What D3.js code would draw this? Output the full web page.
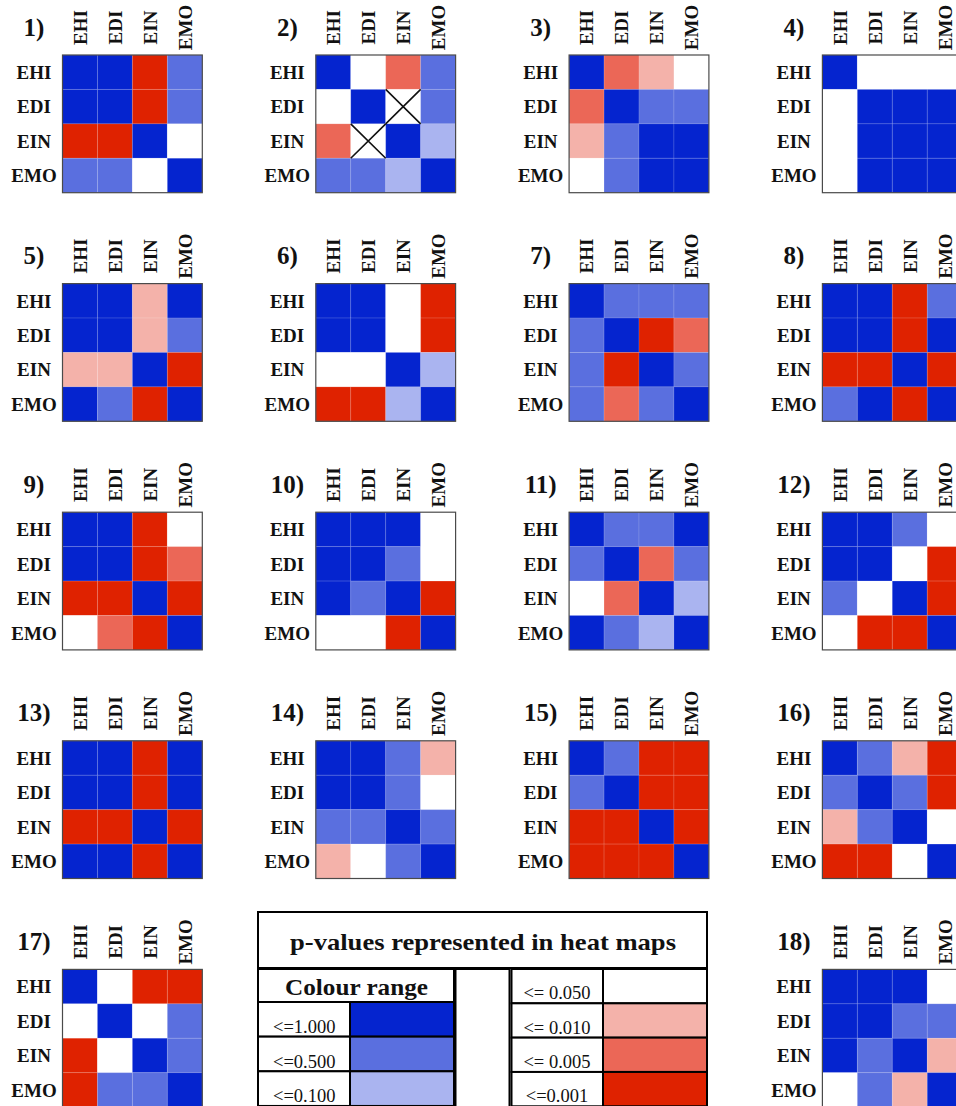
<!DOCTYPE html>
<html>
<head>
<meta charset="utf-8">
<script src="https://cdn.jsdelivr.net/npm/d3@7"></script>
<style>
  html, body { margin: 0; padding: 0; background: #fff; }
  svg { display: block; }
  text { font-family: "Liberation Serif", "DejaVu Serif", serif; }
</style>
</head>
<body>
<svg id="chart" width="956" height="1106"></svg>
<script>
// Variable names on both axes of every heat map
const variables = ["EHI", "EDI", "EIN", "EMO"];

// p-value bins (upper bound of each bin) and their colours
const pBins   = [1.000, 0.500, 0.100, 0.050, 0.010, 0.005, 0.001];
const pColors = ["#0524cf", "#5a6fdf", "#aab4f0", "#ffffff", "#f4b2aa", "#eb6757", "#df2200"];
const binLabels = ["<=1.000", "<=0.500", "<=0.100", "<= 0.050", "<= 0.010", "<= 0.005", "<=0.001"];

// Pairwise p-values, one 4x4 matrix per panel (rows and columns follow `variables`).
// null marks a pair that was not tested (drawn with a cross).
const p1  = [[1.000, 1.000, 0.001, 0.500], [1.000, 1.000, 0.001, 0.500], [0.001, 0.001, 1.000, 0.050], [0.500, 0.500, 0.050, 1.000]];
const p2  = [[1.000, 0.050, 0.005, 0.500], [0.050, 1.000, null, 0.500], [0.005, null, 1.000, 0.100], [0.500, 0.500, 0.100, 1.000]];
const p3  = [[1.000, 0.005, 0.010, 0.050], [0.005, 1.000, 0.500, 0.500], [0.010, 0.500, 1.000, 1.000], [0.050, 0.500, 1.000, 1.000]];
const p4  = [[1.000, 0.050, 0.050, 0.050], [0.050, 1.000, 1.000, 1.000], [0.050, 1.000, 1.000, 1.000], [0.050, 1.000, 1.000, 1.000]];
const p5  = [[1.000, 1.000, 0.010, 1.000], [1.000, 1.000, 0.010, 0.500], [0.010, 0.010, 1.000, 0.001], [1.000, 0.500, 0.001, 1.000]];
const p6  = [[1.000, 1.000, 0.050, 0.001], [1.000, 1.000, 0.050, 0.001], [0.050, 0.050, 1.000, 0.100], [0.001, 0.001, 0.100, 1.000]];
const p7  = [[1.000, 0.500, 0.500, 0.500], [0.500, 1.000, 0.001, 0.005], [0.500, 0.001, 1.000, 0.500], [0.500, 0.005, 0.500, 1.000]];
const p8  = [[1.000, 1.000, 0.001, 0.500], [1.000, 1.000, 0.001, 1.000], [0.001, 0.001, 1.000, 0.001], [0.500, 1.000, 0.001, 1.000]];
const p9  = [[1.000, 1.000, 0.001, 0.050], [1.000, 1.000, 0.001, 0.005], [0.001, 0.001, 1.000, 0.001], [0.050, 0.005, 0.001, 1.000]];
const p10 = [[1.000, 1.000, 1.000, 0.050], [1.000, 1.000, 0.500, 0.050], [1.000, 0.500, 1.000, 0.001], [0.050, 0.050, 0.001, 1.000]];
const p11 = [[1.000, 0.500, 0.500, 1.000], [0.500, 1.000, 0.005, 0.500], [0.050, 0.005, 1.000, 0.100], [1.000, 0.500, 0.100, 1.000]];
const p12 = [[1.000, 1.000, 0.500, 0.050], [1.000, 1.000, 0.050, 0.001], [0.500, 0.050, 1.000, 0.001], [0.050, 0.001, 0.001, 1.000]];
const p13 = [[1.000, 1.000, 0.001, 1.000], [1.000, 1.000, 0.001, 1.000], [0.001, 0.001, 1.000, 0.001], [1.000, 1.000, 0.001, 1.000]];
const p14 = [[1.000, 1.000, 0.500, 0.010], [1.000, 1.000, 0.500, 0.050], [0.500, 0.500, 1.000, 0.500], [0.010, 0.050, 0.500, 1.000]];
const p15 = [[1.000, 0.500, 0.001, 0.001], [0.500, 1.000, 0.001, 0.001], [0.001, 0.001, 1.000, 0.001], [0.001, 0.001, 0.001, 1.000]];
const p16 = [[1.000, 0.500, 0.010, 0.001], [0.500, 1.000, 0.500, 0.001], [0.010, 0.500, 1.000, 0.050], [0.001, 0.001, 0.050, 1.000]];
const p17 = [[1.000, 0.050, 0.001, 0.001], [0.050, 1.000, 0.050, 0.500], [0.001, 0.050, 1.000, 0.500], [0.001, 0.500, 0.500, 1.000]];
const p18 = [[1.000, 1.000, 1.000, 0.050], [1.000, 1.000, 0.500, 0.500], [1.000, 0.500, 1.000, 0.010], [0.050, 0.500, 0.010, 1.000]];

// Panel number, matrix, and slot in the 4-column page grid
const panels = [
  { id: 1,  m: p1,  col: 0, row: 0 }, { id: 2,  m: p2,  col: 1, row: 0 },
  { id: 3,  m: p3,  col: 2, row: 0 }, { id: 4,  m: p4,  col: 3, row: 0 },
  { id: 5,  m: p5,  col: 0, row: 1 }, { id: 6,  m: p6,  col: 1, row: 1 },
  { id: 7,  m: p7,  col: 2, row: 1 }, { id: 8,  m: p8,  col: 3, row: 1 },
  { id: 9,  m: p9,  col: 0, row: 2 }, { id: 10, m: p10, col: 1, row: 2 },
  { id: 11, m: p11, col: 2, row: 2 }, { id: 12, m: p12, col: 3, row: 2 },
  { id: 13, m: p13, col: 0, row: 3 }, { id: 14, m: p14, col: 1, row: 3 },
  { id: 15, m: p15, col: 2, row: 3 }, { id: 16, m: p16, col: 3, row: 3 },
  { id: 17, m: p17, col: 0, row: 4 }, { id: 18, m: p18, col: 3, row: 4 }
];

const svg = d3.select("#chart");

const color = d3.scaleOrdinal().domain(pBins).range(pColors);

// page grid of panels
const gridX = d3.scaleLinear().domain([0, 1]).range([62.5, 62.5 + 253.3]);
const gridY = d3.scaleLinear().domain([0, 1]).range([55, 55 + 228.6]);
const mapW = 139.8, mapH = 137.7;

const x = d3.scaleBand().domain(variables).range([0, mapW]);
const y = d3.scaleBand().domain(variables).range([0, mapH]);

panels.forEach(p => {
  const g = svg.append("g")
    .attr("transform", `translate(${gridX(p.col)},${gridY(p.row)})`);

  const cells = [];
  p.m.forEach((rowVals, i) => rowVals.forEach((v, j) => {
    cells.push({ r: variables[i], c: variables[j], v });
  }));

  g.selectAll("rect.cell").data(cells).join("rect")
    .attr("class", "cell")
    .attr("x", d => x(d.c))
    .attr("y", d => y(d.r))
    .attr("width", x.bandwidth())
    .attr("height", y.bandwidth())
    .attr("fill", d => d.v === null ? "#ffffff" : color(d.v))
    .attr("stroke", "rgba(255,255,255,0.12)")
    .attr("stroke-width", 1);

  // untested pairs: crossed-out cell
  const missing = cells.filter(d => d.v === null);
  g.selectAll("path.cross").data(missing).join("path")
    .attr("class", "cross")
    .attr("d", d => {
      const x0 = x(d.c), y0 = y(d.r), x1 = x0 + x.bandwidth(), y1 = y0 + y.bandwidth();
      return `M${x0},${y0}L${x1},${y1}M${x1},${y0}L${x0},${y1}`;
    })
    .attr("stroke", "#111")
    .attr("stroke-width", 1.6)
    .attr("fill", "none");

  g.append("rect")
    .attr("width", mapW).attr("height", mapH)
    .attr("fill", "none")
    .attr("stroke", "#4a4a4a")
    .attr("stroke-width", 1.2);

  // row labels
  g.selectAll("text.rowlab").data(variables).join("text")
    .attr("class", "rowlab")
    .attr("x", -28.5)
    .attr("y", d => y(d) + y.bandwidth() / 2)
    .attr("dy", "0.36em")
    .attr("text-anchor", "middle")
    .attr("font-weight", "bold")
    .attr("font-size", 19)
    .attr("fill", "#111")
    .text(d => d);

  // column labels, rotated
  g.selectAll("text.collab").data(variables).join("text")
    .attr("class", "collab")
    .attr("transform", d => `translate(${x(d) + x.bandwidth() / 2},-27.5) rotate(-90)`)
    .attr("dy", "0.36em")
    .attr("text-anchor", "middle")
    .attr("font-weight", "bold")
    .attr("font-size", 19)
    .attr("fill", "#111")
    .text(d => d);

  // panel number
  g.append("text")
    .attr("x", -28.5)
    .attr("y", -19.5)
    .attr("text-anchor", "middle")
    .attr("font-weight", "bold")
    .attr("font-size", 25)
    .attr("fill", "#111")
    .text(`${p.id})`);
});

// ---- legend table ----
const lg = svg.append("g");
const lineW = 2;

function box(x0, y0, w, h, fill) {
  lg.append("rect")
    .attr("x", x0).attr("y", y0).attr("width", w).attr("height", h)
    .attr("fill", fill || "#fff")
    .attr("stroke", "#000").attr("stroke-width", lineW);
}

// title box
box(258, 912, 449, 56);
lg.append("text")
  .attr("x", 483).attr("y", 949.5)
  .attr("text-anchor", "middle")
  .attr("font-weight", "bold").attr("font-size", 24).attr("fill", "#111")
  .attr("textLength", 386).attr("lengthAdjust", "spacingAndGlyphs")
  .text("p-values represented in heat maps");

// left block: header + blue bins
box(258, 969, 196, 33);
lg.append("text")
  .attr("x", 356.5).attr("y", 994.5)
  .attr("text-anchor", "middle")
  .attr("font-weight", "bold").attr("font-size", 24).attr("fill", "#111")
  .attr("textLength", 143).attr("lengthAdjust", "spacingAndGlyphs")
  .text("Colour range");

const leftRows = d3.scaleBand().domain([0, 1, 2, 3]).range([1002, 1140.6]);
[0, 1, 2].forEach(i => {
  const y0 = leftRows(i), h = leftRows.bandwidth();
  box(258, y0, 92, h);
  box(350, y0, 104, h, pColors[i]);
  lg.append("text")
    .attr("x", 273).attr("y", y0 + h - 3.5)
    .attr("font-size", 18.5).attr("fill", "#111")
    .text(binLabels[i]);
});

// spacer column
box(455.5, 969, 54, 160);

// right block: white and red bins
const rightRows = d3.scaleBand().domain([0, 1, 2, 3, 4]).range([969, 1140.6]);
[3, 4, 5, 6].forEach((b, k) => {
  const y0 = rightRows(k), h = rightRows.bandwidth();
  box(511.5, y0, 91.5, h);
  box(603, y0, 104, h, pColors[b]);
  lg.append("text")
    .attr("x", 557).attr("y", y0 + h - 4)
    .attr("text-anchor", "middle")
    .attr("font-size", 18.5).attr("fill", "#111")
    .text(binLabels[b]);
});
</script>
</body>
</html>
